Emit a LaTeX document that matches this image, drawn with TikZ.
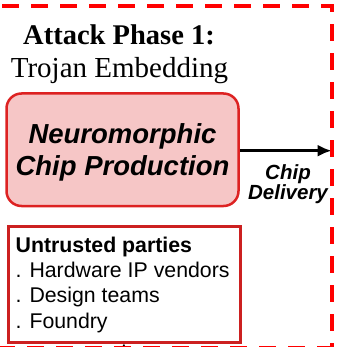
\documentclass[tikz,border=0pt]{standalone}
\usepackage{fontspec}
\setmainfont{Liberation Serif}
\setsansfont{Liberation Sans}
\usetikzlibrary{arrows.meta}
\definecolor{dashred}{HTML}{FF0000}
\definecolor{boxred}{HTML}{DD2222}
\definecolor{boxfill}{HTML}{F6C6C6}
\definecolor{partyred}{HTML}{CC2020}
\tikzset{
  phasebox/.style={draw=dashred, line width=4pt, dash pattern=on 17pt off 12pt},
  prodbox/.style={draw=boxred, fill=boxfill, line width=2.5pt, rounded corners=15pt,
    minimum width=232pt, minimum height=112.5pt, inner sep=0pt, align=center,
    text depth=0pt, font=\sffamily\bfseries\itshape\fontsize{27.5}{32}\selectfont},
  partybox/.style={draw=partyred, fill=white, line width=3pt,
    minimum width=232pt, minimum height=116pt, inner sep=0pt},
  partytxt/.style={inner sep=0pt, align=left, font=\sffamily\fontsize{21.3}{25.3}\selectfont},
  flow/.style={draw=black, line width=2.8pt, -{Latex[length=14pt,width=12pt]}},
  lbl/.style={inner sep=0pt, align=center, text depth=0pt,
    font=\sffamily\bfseries\itshape\fontsize{20.5}{20}\selectfont}
}
\begin{document}
\begin{tikzpicture}[x=1pt,y=-1pt]
\clip (0,0) rectangle (337,347);
\fill[white] (0,0) rectangle (337,347);
% title
\node[anchor=base, inner sep=0pt, font=\bfseries\fontsize{28.5}{30}\selectfont] (title) at (119,45) {Attack Phase 1:};
\node[anchor=base, inner sep=0pt, font=\fontsize{29}{30}\selectfont] (subtitle) at (119.5,78) {Trojan Embedding};
% boxes
\node[prodbox] (prod) at (122.5,149.75) {Neuromorphic\\Chip Production};
\node[partybox, anchor=north west] (party) at (6.5,224.5) {};
\node[partytxt, anchor=base west] (partytext) at (15.5,328) {\textbf{Untrusted parties}\\. Hardware IP vendors\\. Design teams\\. Foundry};
% arrows
\coordinate (deliv) at (331.7,150.7);
\draw[flow] (prod.east |- deliv) -- (deliv);
\node[lbl] (chiplbl) at (288,182.5) {Chip\\Delivery};
\coordinate (below) at (122.5,370);
\draw[draw=black, line width=1.5pt, -{Latex[length=5pt,width=6pt]}] (below) -- (party.south);
% dashed phase frame
\draw[phasebox] (2.3,6) -- (332,6) -- (332,370);
\draw[phasebox, line width=3pt] (-2,347.8) -- (334,347.8);
\end{tikzpicture}
\end{document}
